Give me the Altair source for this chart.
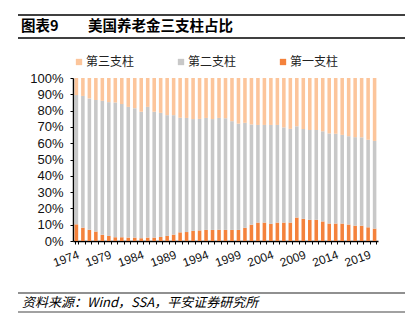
import altair as alt
import pandas as pd

years = list(range(1974, 2021))
series_names = ["第一支柱", "第二支柱", "第三支柱"]

first_pillar = [10.2, 8.2, 6.9, 5.8, 3.8, 3.1, 2.3, 2.3, 2.1, 2.1,
                1.7, 2.1, 2.1, 2.5, 3.1, 3.9, 5.3, 5.5, 6.2, 6.5,
                6.8, 6.8, 6.9, 6.8, 6.8, 6.8, 8.1, 10.0, 11.3, 11.3,
                10.5, 11.3, 11.3, 11.3, 14.4, 13.6, 13.0, 13.0, 12.0, 10.7,
                10.7, 10.7, 10.1, 9.4, 9.4, 8.4, 7.6]
second_pillar = [79.3, 80.8, 80.6, 80.7, 82.2, 82.1, 82.7, 81.7, 80.2, 79.4,
                 77.6, 80.2, 77.2, 76.1, 74.1, 73.3, 70.3, 70.0, 68.6, 68.4,
                 68.7, 68.0, 68.6, 68.5, 66.7, 65.2, 64.4, 61.5, 59.9, 59.9,
                 60.7, 59.9, 58.4, 57.5, 56.0, 55.1, 55.1, 55.1, 55.3, 55.3,
                 55.1, 54.4, 54.2, 54.3, 54.2, 53.7, 53.8]
third_pillar = [10.5, 11.0, 12.5, 13.5, 14.0, 14.8, 15.0, 16.0, 17.7, 18.5,
                20.7, 17.7, 20.7, 21.4, 22.8, 22.8, 24.4, 24.5, 25.2, 25.1,
                24.5, 25.2, 24.5, 24.7, 26.5, 28.0, 27.5, 28.5, 28.8, 28.8,
                28.8, 28.8, 30.3, 31.2, 29.6, 31.3, 31.9, 31.9, 32.7, 34.0,
                34.2, 34.9, 35.7, 36.3, 36.4, 37.9, 38.6]
y_ticks = list(range(0, 101, 10))

rows = []
for i, y in enumerate(years):
    for k, (name, vals) in enumerate(zip(series_names, [first_pillar, second_pillar, third_pillar])):
        rows.append({"year": y, "series": name, "value": vals[i], "ord": k})
df = pd.DataFrame(rows)

CJK = "Noto Sans CJK SC"
LAT = "Liberation Sans"

bars = alt.Chart(df).mark_bar().encode(
    x=alt.X("year:O",
            scale=alt.Scale(paddingInner=0.45, paddingOuter=0.25),
            axis=alt.Axis(title=None, labelAngle=-20, labelAlign="right", labelBaseline="top",
                          labelExpr="datum.value % 5 == 4 ? datum.label : ''",
                          labelFont=LAT, labelFontSize=12, labelColor="#111",
                          labelPadding=5, tickBand="extent", tickSize=3,
                          tickColor="#000", domainColor="#000", domainWidth=1.5,
                          labelOverlap=False)),
    y=alt.Y("value:Q", stack="zero",
            scale=alt.Scale(domain=[0, 100], nice=False),
            axis=alt.Axis(title=None, values=y_ticks, labelExpr="datum.value + '%'",
                          labelFont=LAT, labelFontSize=13, labelColor="#111",
                          tickSize=3, labelPadding=7, tickColor="#000",
                          domainColor="#000", domainWidth=1.5, grid=False)),
    color=alt.Color("series:N",
                    scale=alt.Scale(domain=["第三支柱", "第二支柱", "第一支柱"],
                                    range=["#FCC59B", "#C8C8C8", "#F4823C"]),
                    legend=alt.Legend(title=None, orient="none", legendX=0, legendY=-22,
                                      direction="horizontal", symbolType="square",
                                      symbolSize=40, symbolStrokeWidth=0,
                                      labelFont=CJK, labelFontSize=12, labelColor="#222",
                                      labelOffset=1, columnPadding=40)),
    order=alt.Order("ord:Q"),
)

one = pd.DataFrame({"d": [0]})

def rule(y, color="#000", w=1.5):
    return alt.Chart(one).mark_rule(color=color, strokeWidth=w).encode(
        x=alt.value(-55), x2=alt.value(332), y=alt.value(y))

def text(s, x, y, size, weight="normal", style="normal"):
    return alt.Chart(one).mark_text(text=s, align="left", baseline="middle", font=CJK,
                                    fontSize=size, fontWeight=weight, fontStyle=style,
                                    color="#000").encode(x=alt.value(x), y=alt.value(y))

chart = alt.layer(
    bars,
    rule(-63),
    rule(-40),
    rule(215, "#222", 1.2),
    rule(234, "#444", 1.2),
    text("图表9", -52, -51, 14.5, "bold"),
    text("美国养老金三支柱占比", 15, -51, 14.5, "bold"),
    text("资料来源：Wind，SSA，平安证券研究所", -51, 224.5, 13, style="italic"),
).properties(
    width=305, height=163,
    padding={"left": 73, "top": 78, "right": 39, "bottom": 87},
    autosize="none",
).configure_view(stroke=None)

chart.save("out.html", embed_options={"renderer": "svg", "actions": False})
